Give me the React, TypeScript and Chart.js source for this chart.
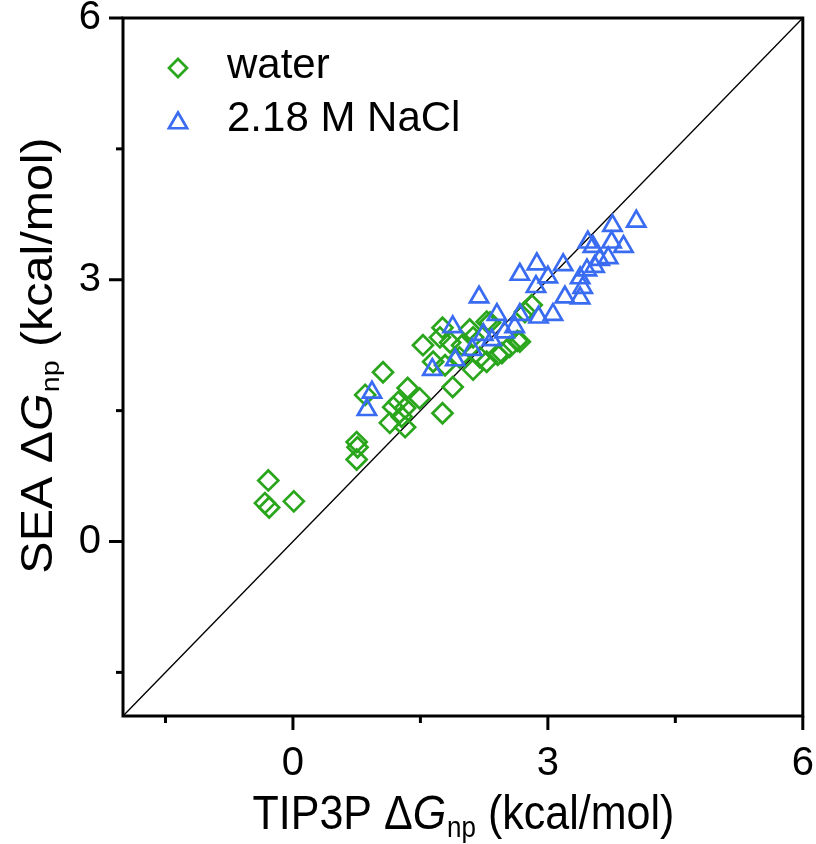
import React, { useEffect, useRef } from 'react';
import { Chart, registerables } from 'chart.js';

Chart.register(...registerables);

// ---------- data ----------
const waterX = [
  -0.29, -0.33, -0.28, 0.01, 0.75, 0.76, 0.75, 0.85, 1.06, 1.14,
  1.28, 1.32, 1.18, 1.24, 1.32, 1.35, 1.49, 1.76, 1.88, 1.53,
  1.65, 1.79, 1.73, 1.85, 1.76, 1.99, 1.96, 2.12, 2.12, 2.2,
  2.28, 2.32, 2.41, 2.55, 2.67, 2.73, 2.81, 2.08, 2.28, 2.46, 2.64,
];
const waterY = [
  0.7, 0.44, 0.39, 0.46, 1.14, 1.08, 0.94, 1.68, 1.94, 1.36,
  1.43, 1.31, 1.54, 1.6, 1.53, 1.76, 1.64, 1.47, 1.77, 2.25,
  2.06, 2.02, 2.34, 2.28, 2.45, 2.25, 2.11, 2.34, 1.97, 2.11,
  2.06, 2.51, 2.14, 2.23, 2.29, 2.63, 2.71, 2.43, 2.52, 2.16, 2.3,
];
const naclX = [
  0.93, 0.87, 1.64, 1.88, 1.91, 2.11, 2.19, 2.24, 2.34, 2.4,
  2.49, 2.61, 2.67, 2.89, 3.06, 2.67, 2.86, 2.87, 3.0, 3.18,
  3.2, 3.38, 3.41, 3.38, 3.46, 3.55, 3.47, 3.53, 3.61, 3.71,
  3.75, 3.89, 3.76, 4.04,
];
const naclY = [
  1.71, 1.51, 1.97, 2.46, 2.08, 2.2, 2.8, 2.37, 2.31, 2.6,
  2.4, 2.46, 2.6, 2.57, 2.6, 3.06, 2.92, 3.18, 3.03, 3.17,
  2.8, 2.79, 2.91, 3.02, 3.11, 3.15, 3.43, 3.38, 3.23, 3.25,
  3.43, 3.38, 3.62, 3.67,
];
const identityLine = [-2, 6];
const axisMin = -2;
const axisMax = 6;
const majorTicks = [0, 3, 6];
const minorTicks = [-1.5, 1.5, 4.5];
const seriesLabels = ['water', '2.18 M NaCl'];
const xTitleParts = ['TIP3P Δ', 'G', 'np', ' (kcal/mol)'];
const yTitleParts = ['SEA Δ', 'G', 'np', ' (kcal/mol)'];

// ---------- styles ----------
const GREEN = '#2aa61c';
const BLUE = '#3a6cf2';
const FONT = '"Liberation Sans", Arial, Helvetica, sans-serif';

function drawRich(ctx: CanvasRenderingContext2D, parts: string[], size: number) {
  const fNormal = `${size}px ${FONT}`;
  const fItalic = `italic ${size}px ${FONT}`;
  const subSize = Math.round(size * 0.6);
  const fSub = `${subSize}px ${FONT}`;
  const fonts = [fNormal, fItalic, fSub, fNormal];
  const widths = parts.map((p, i) => {
    ctx.font = fonts[i];
    return ctx.measureText(p).width;
  });
  const total = widths.reduce((a, b) => a + b, 0);
  let x = -total / 2;
  ctx.textBaseline = 'alphabetic';
  ctx.textAlign = 'left';
  parts.forEach((p, i) => {
    ctx.font = fonts[i];
    const dy = i === 2 ? size * 0.17 : 0;
    ctx.fillText(p, x, dy);
    x += widths[i] + (i === 1 ? 1 : 0);
  });
}

const decorPlugin = {
  id: 'decor',
  afterDraw(chart: any) {
    const { ctx, chartArea: a, scales } = chart;
    ctx.save();
    ctx.strokeStyle = '#000';
    ctx.fillStyle = '#000';
    ctx.lineWidth = 3;
    ctx.strokeRect(a.left, a.top, a.right - a.left, a.bottom - a.top);
    const tick = (vals: number[], len: number) => {
      vals.forEach((v) => {
        const px = scales.x.getPixelForValue(v);
        ctx.beginPath();
        ctx.moveTo(px, a.bottom);
        ctx.lineTo(px, a.bottom + len);
        ctx.stroke();
        const py = scales.y.getPixelForValue(v);
        ctx.beginPath();
        ctx.moveTo(a.left, py);
        ctx.lineTo(a.left - len, py);
        ctx.stroke();
      });
    };
    tick(majorTicks, 14);
    tick(minorTicks, 7);

    // axis titles
    ctx.save();
    ctx.translate((a.left + a.right) / 2, 829);
    ctx.scale(1, 1.1);
    drawRich(ctx, xTitleParts, 43);
    ctx.restore();
    ctx.save();
    ctx.translate(52, 356);
    ctx.rotate(-Math.PI / 2);
    ctx.scale(1.1, 1);
    drawRich(ctx, yTitleParts, 44);
    ctx.restore();

    // legend
    const lx = 178;
    ctx.lineWidth = 2.7;
    ctx.strokeStyle = GREEN;
    const r = 9;
    const dy0 = 68;
    ctx.beginPath();
    ctx.moveTo(lx - r, dy0);
    ctx.lineTo(lx, dy0 - r);
    ctx.lineTo(lx + r, dy0);
    ctx.lineTo(lx, dy0 + r);
    ctx.closePath();
    ctx.stroke();
    ctx.strokeStyle = BLUE;
    const tr = 10.5;
    const ty = 123;
    ctx.beginPath();
    for (let k = 0; k < 3; k++) {
      const ang = (k * 2 * Math.PI) / 3;
      const px = lx + Math.sin(ang) * tr;
      const py = ty - Math.cos(ang) * tr;
      if (k === 0) ctx.moveTo(px, py);
      else ctx.lineTo(px, py);
    }
    ctx.closePath();
    ctx.stroke();
    ctx.fillStyle = '#000';
    ctx.font = `42px ${FONT}`;
    ctx.textAlign = 'left';
    ctx.textBaseline = 'alphabetic';
    ctx.fillText(seriesLabels[0], 227, 78);
    ctx.fillText(seriesLabels[1], 227, 131);
    ctx.restore();
  },
};

export default function App() {
  const ref = useRef<HTMLCanvasElement | null>(null);
  useEffect(() => {
    if (!ref.current) return;
    const toPts = (xs: number[], ys: number[]) => xs.map((x, i) => ({ x, y: ys[i] }));
    const chart = new Chart(ref.current, {
      type: 'scatter',
      data: {
        datasets: [
          {
            label: seriesLabels[1],
            data: toPts(naclX, naclY),
            pointStyle: 'triangle',
            pointRadius: 10.5,
            pointBorderWidth: 2.7,
            borderColor: BLUE,
            backgroundColor: 'rgba(0,0,0,0)',
            order: 1,
          },
          {
            label: seriesLabels[0],
            data: toPts(waterX, waterY),
            pointStyle: 'rectRot',
            pointRadius: 10,
            pointBorderWidth: 2.7,
            borderColor: GREEN,
            backgroundColor: 'rgba(0,0,0,0)',
            order: 2,
          },
          {
            type: 'line',
            label: 'y = x',
            data: toPts(identityLine, identityLine),
            borderColor: '#000',
            borderWidth: 1.4,
            pointRadius: 0,
            showLine: true,
            fill: false,
            order: 3,
          } as any,
        ],
      },
      options: {
        animation: false,
        responsive: false,
        devicePixelRatio: 1,
        layout: { padding: { left: 0, right: 13, top: 18, bottom: 0 } },
        plugins: { legend: { display: false }, tooltip: { enabled: false } },
        scales: {
          x: {
            type: 'linear',
            min: axisMin,
            max: axisMax,
            grid: { display: false, drawTicks: false },
            border: { display: false },
            afterBuildTicks: (s: any) => {
              s.ticks = majorTicks.map((v) => ({ value: v }));
            },
            afterFit: (s: any) => {
              s.height = 128;
              s.paddingLeft = 0;
              s.paddingRight = 0;
            },
            ticks: {
              color: '#000',
              padding: 24,
              maxRotation: 0,
              autoSkip: false,
              font: { family: FONT, size: 40 },
            },
          },
          y: {
            type: 'linear',
            min: axisMin,
            max: axisMax,
            grid: { display: false, drawTicks: false },
            border: { display: false },
            afterBuildTicks: (s: any) => {
              s.ticks = majorTicks.map((v) => ({ value: v }));
            },
            afterFit: (s: any) => {
              s.width = 123;
              s.paddingTop = 0;
              s.paddingBottom = 0;
            },
            ticks: {
              color: '#000',
              padding: 22,
              autoSkip: false,
              font: { family: FONT, size: 40 },
            },
          },
        },
      },
      plugins: [decorPlugin],
    });
    return () => chart.destroy();
  }, []);
  return (
    <div style={{ position: 'absolute', left: 0, top: 0, width: 816, height: 844, background: '#fff' }}>
      <canvas ref={ref} width={816} height={844} style={{ display: 'block', width: 816, height: 844 }} />
    </div>
  );
}
